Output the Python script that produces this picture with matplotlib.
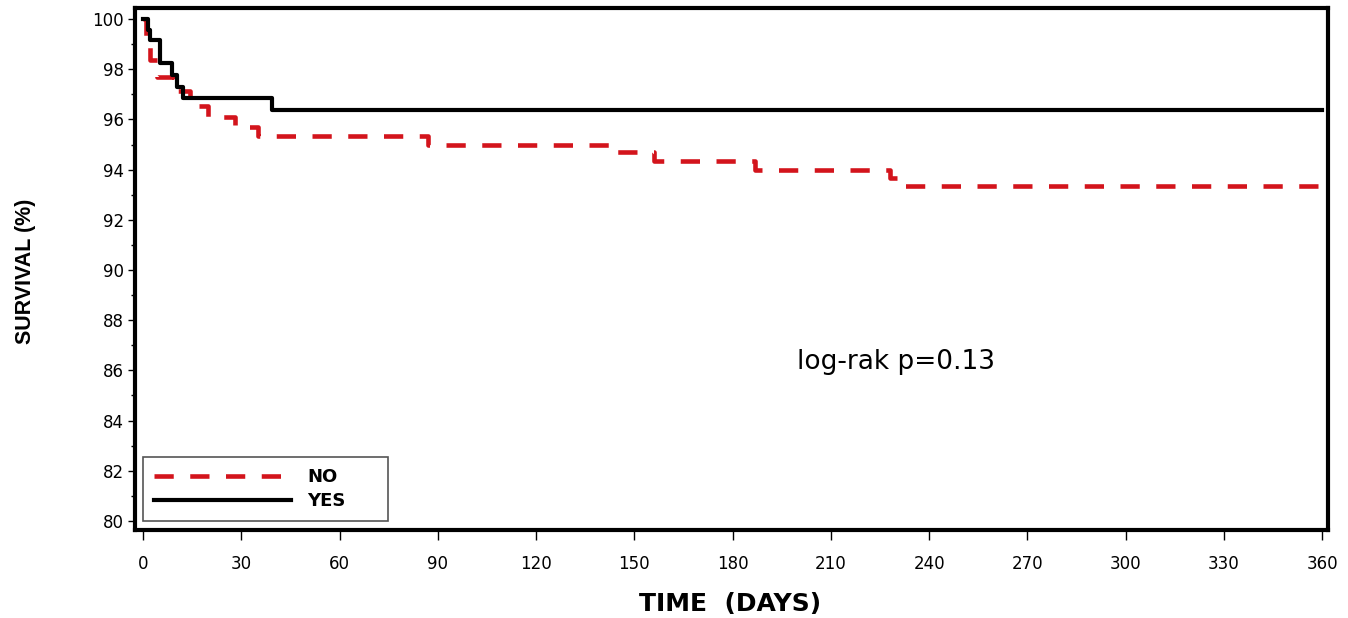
import matplotlib
matplotlib.use("Agg")
import matplotlib.pyplot as plt
from matplotlib.lines import Line2D

# ---- data ----
no_days = [0, 0.8, 2.2, 4.3, 9.5, 14.5, 20, 28, 35, 87, 143, 156, 187, 228, 231, 360]
no_surv = [100, 99.0, 98.35, 97.7, 97.15, 96.55, 96.1, 95.7, 95.35, 95.0, 94.69, 94.36, 94.0, 93.67, 93.35, 93.35]

yes_days = [0, 1.5, 2.2, 5.2, 8.8, 10.3, 12.3, 39.4, 360]
yes_surv = [100, 99.56, 99.16, 98.23, 97.77, 97.3, 96.84, 96.37, 96.37]

x_ticks = [0, 30, 60, 90, 120, 150, 180, 210, 240, 270, 300, 330, 360]
y_ticks = [80, 82, 84, 86, 88, 90, 92, 94, 96, 98, 100]
series_labels = ["NO", "YES"]
annotation = "log-rak p=0.13"
annot_pos = (230, 86.33)
x_label = "TIME  (DAYS)"
y_label = "SURVIVAL (%)"

RED = "#D3141C"
W, H = 1348, 618
fig = plt.figure(figsize=(W / 100, H / 100), dpi=100)
L, R, T, B = 135, 1328, 8, 530
ax = fig.add_axes([L / W, 1 - B / H, (R - L) / W, (B - T) / H])

ax.step(no_days, no_surv, where="post", color=RED, lw=3.3,
        dashes=(4.2, 3.6), solid_capstyle="butt", dash_capstyle="butt")
ax.step(yes_days, yes_surv, where="post", color="black", lw=3.0)

ax.set_xlim(-2.44, 361.8)
ax.set_ylim(79.64, 100.44)

for s in ax.spines.values():
    s.set_linewidth(3.0)
    s.set_color("black")

ax.set_xticks(x_ticks)
ax.set_yticks(y_ticks)
ax.set_yticks([y + 1 for y in y_ticks[:-1]], minor=True)
tick_font = dict(family=["DejaVu Sans"], size=12)
ax.set_xticklabels([str(v) for v in x_ticks], fontdict=tick_font)
ax.set_yticklabels([str(v) for v in y_ticks], fontdict=tick_font)
ax.tick_params(axis="x", which="major", direction="out", length=7, width=1.0, pad=11)
ax.tick_params(axis="y", which="major", direction="out", length=5, width=1.0, pad=3)
ax.tick_params(axis="y", which="minor", direction="out", length=3, width=1.0)

ax.set_xlabel(x_label, fontdict=dict(family=["DejaVu Sans"], weight="bold", size=18))
ax.set_ylabel(y_label, fontdict=dict(family=["Liberation Sans"], weight="bold", size=15.5))
ax.xaxis.set_label_coords(0.499, -0.1195)
ax.yaxis.set_label_coords(-0.083, 0.495)

ax.text(annot_pos[0], annot_pos[1], annotation, ha="center", va="center",
        fontsize=19, family=["DejaVu Sans"])

handles = [Line2D([], [], color=RED, lw=3.3, dashes=(4.2, 3.6)),
           Line2D([], [], color="black", lw=3.0)]
leg = ax.legend(handles, series_labels, loc="lower left", mode="expand",
                bbox_to_anchor=(0.0065, 0.017, 0.2055, 0.123), borderaxespad=0,
                frameon=True, fancybox=False, edgecolor="#555555",
                framealpha=1, handlelength=7.6, handletextpad=0.9,
                borderpad=0.6, labelspacing=0.35,
                prop=dict(family=["DejaVu Sans"], weight="bold", size=13))
leg.get_frame().set_linewidth(1.2)

fig.savefig("out.png", dpi=100, facecolor="white")
